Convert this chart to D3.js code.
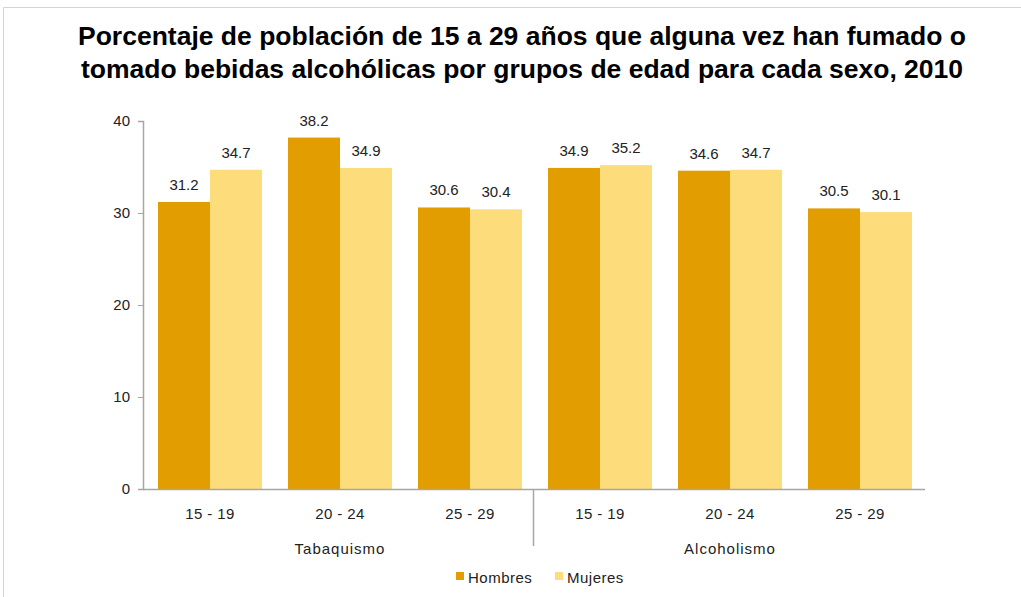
<!DOCTYPE html>
<html>
<head>
<meta charset="utf-8">
<script src="https://cdn.jsdelivr.net/npm/d3@7/dist/d3.min.js"></script>
<style>
  body { margin: 0; background: #fff; }
  text { font-family: "Liberation Sans", Arial, sans-serif; }
</style>
</head>
<body>
<div id="mount"></div>
<script>
// data
var groups = ['Tabaquismo', 'Alcoholismo'];
var ageGroups = ['15 - 19', '20 - 24', '25 - 29'];
var series = ['Hombres', 'Mujeres'];
var hombres = [31.2, 38.2, 30.6, 34.9, 34.6, 30.5];
var mujeres = [34.7, 34.9, 30.4, 35.2, 34.7, 30.1];
var yTicks = [0, 10, 20, 30, 40];
var colors = ['#e29d00', '#fddc7c'];

var W = 1021, H = 597;
var svg = d3.select('#mount').append('svg')
    .attr('width', W)
    .attr('height', H);

// light frame like the original
svg.append('path')
    .attr('d', 'M3.5,' + H + 'V7.5H' + W)
    .attr('fill', 'none')
    .attr('stroke', '#d4d4d4');

svg.append('text')
    .attr('x', 522).attr('y', 45)
    .attr('text-anchor', 'middle')
    .style('font-size', '26.5px').style('font-weight', 'bold')
    .text('Porcentaje de población de 15 a 29 años que alguna vez han fumado o');
svg.append('text')
    .attr('x', 522).attr('y', 78)
    .attr('text-anchor', 'middle')
    .style('font-size', '26.5px').style('font-weight', 'bold')
    .text('tomado bebidas alcohólicas por grupos de edad para cada sexo, 2010');

var plotLeft = 145, plotRight = 925, plotTop = 121, plotBottom = 489;

// one row per bar group
var cats = [];
groups.forEach((g, gi) => ageGroups.forEach((a, ai) => {
  var i = gi * ageGroups.length + ai;
  cats.push({ key: i, group: g, age: a, vals: [hombres[i], mujeres[i]] });
}));

var x = d3.scaleBand()
    .domain(cats.map(d => d.key))
    .range([plotLeft, plotRight])
    .paddingInner(0.2)
    .paddingOuter(0.1);
var xs = d3.scaleBand()
    .domain(series)
    .range([0, x.bandwidth()]);
var y = d3.scaleLinear()
    .domain([0, 40])
    .range([plotBottom, plotTop]);

// y axis
var yAxis = svg.append('g')
    .attr('transform', 'translate(' + (plotLeft - 2) + ',0)')
    .call(d3.axisLeft(y).tickValues(yTicks).tickSize(5).tickPadding(8));
yAxis.select('.domain').attr('stroke', '#a6a6a6').attr('stroke-width', 1.5);
yAxis.selectAll('.tick line').attr('stroke', '#a6a6a6');
yAxis.selectAll('.tick text').style('font-size', '15px').attr('fill', '#222')
    .attr('font-family', '"Liberation Sans", Arial, sans-serif');

// bars
var g = svg.selectAll('.cat')
    .data(cats)
  .enter().append('g')
    .attr('class', 'cat')
    .attr('transform', d => 'translate(' + x(d.key) + ',0)');

g.selectAll('rect')
    .data(d => d.vals.map((v, i) => ({ s: series[i], v: v, i: i })))
  .enter().append('rect')
    .attr('x', d => xs(d.s))
    .attr('width', xs.bandwidth())
    .attr('y', d => y(d.v))
    .attr('height', d => y(0) - y(d.v))
    .attr('fill', d => colors[d.i]);

g.selectAll('.lbl')
    .data(d => d.vals.map((v, i) => ({ s: series[i], v: v })))
  .enter().append('text')
    .attr('class', 'lbl')
    .attr('x', d => xs(d.s) + xs.bandwidth() / 2)
    .attr('y', d => y(d.v) - 12)
    .attr('text-anchor', 'middle')
    .style('font-size', '15px')
    .attr('fill', '#222')
    .text(d => d.v.toFixed(1));

// x axis baseline
svg.append('line')
    .attr('x1', plotLeft - 2).attr('x2', plotRight)
    .attr('y1', plotBottom + 0.5).attr('y2', plotBottom + 0.5)
    .attr('stroke', '#a6a6a6')
    .attr('stroke-width', 1.5);

// category labels
svg.selectAll('.age')
    .data(cats)
  .enter().append('text')
    .attr('class', 'age')
    .attr('x', d => x(d.key) + x.bandwidth() / 2)
    .attr('y', plotBottom + 30)
    .attr('text-anchor', 'middle')
    .style('font-size', '15px')
    .style('letter-spacing', '0.4px')
    .attr('fill', '#222')
    .text(d => d.age);

// group labels and separator
var step = x.step();
groups.forEach((grp, gi) => {
  var first = cats[gi * ageGroups.length].key;
  var last = cats[gi * ageGroups.length + ageGroups.length - 1].key;
  var cx = (x(first) + x(last) + x.bandwidth()) / 2;
  svg.append('text')
    .attr('x', cx)
    .attr('y', plotBottom + 65)
    .attr('text-anchor', 'middle')
    .style('font-size', '15px')
    .style('letter-spacing', '1px')
    .attr('fill', '#222')
    .text(grp);
  if (gi > 0) {
    var sx = Math.round(x(first) - (step - x.bandwidth()) / 2) - 1.5;
    svg.append('line')
      .attr('x1', sx).attr('x2', sx)
      .attr('y1', plotBottom).attr('y2', plotBottom + 57)
      .attr('stroke', '#a6a6a6')
      .attr('stroke-width', 1.5);
  }
});

// legend
var legendX = [456, 555];
var lg = svg.selectAll('.leg')
    .data(series)
  .enter().append('g')
    .attr('class', 'leg')
    .attr('transform', (d, i) => 'translate(' + legendX[i] + ',572)');
lg.append('rect')
    .attr('width', 8).attr('height', 8)
    .attr('fill', (d, i) => colors[i]);
lg.append('text')
    .attr('x', 12).attr('y', 11)
    .style('font-size', '15px')
    .style('letter-spacing', '0.5px')
    .attr('fill', '#222')
    .text(d => d);
</script>
</body>
</html>
